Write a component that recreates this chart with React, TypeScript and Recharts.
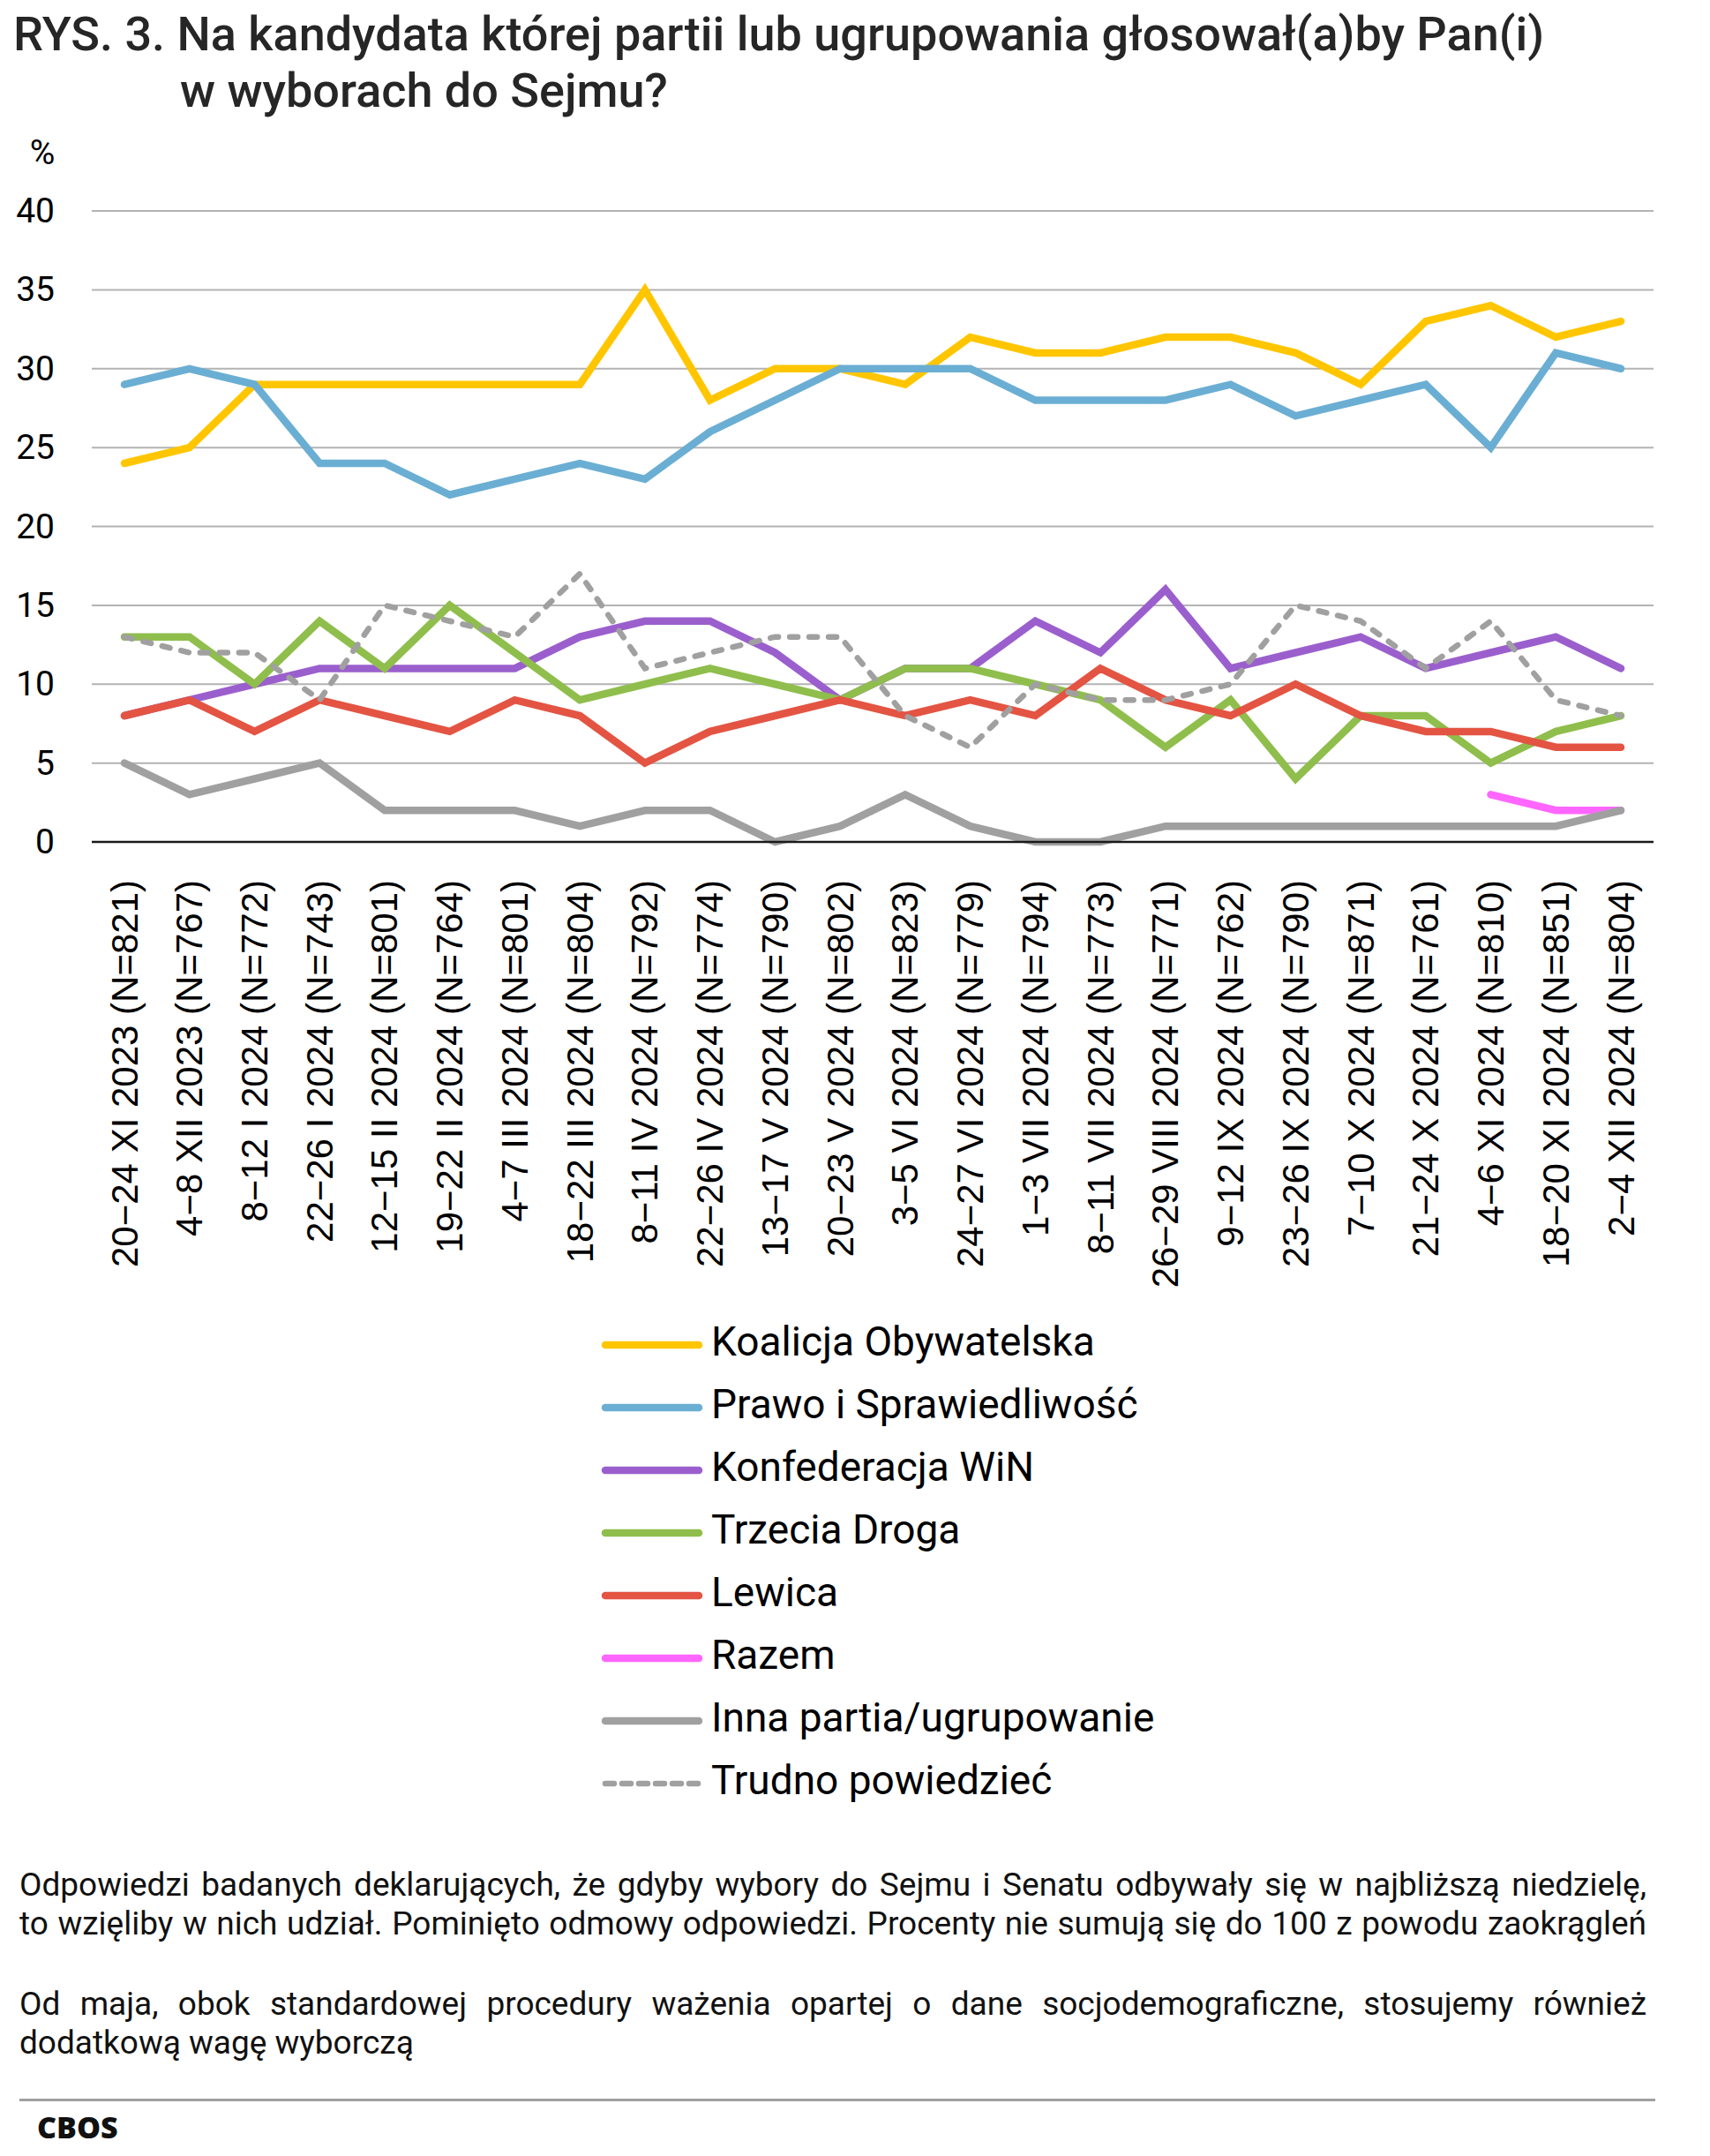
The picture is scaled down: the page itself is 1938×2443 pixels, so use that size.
import React from "react";
import { LineChart, Line, XAxis, YAxis, CartesianGrid } from "recharts";

const waves = [
  "20−24 XI 2023 (N=821)",
  "4−8 XII 2023 (N=767)",
  "8−12 I 2024 (N=772)",
  "22−26 I 2024 (N=743)",
  "12−15 II 2024 (N=801)",
  "19−22 II 2024 (N=764)",
  "4−7 III 2024 (N=801)",
  "18−22 III 2024 (N=804)",
  "8−11 IV 2024 (N=792)",
  "22−26 IV 2024 (N=774)",
  "13−17 V 2024 (N=790)",
  "20−23 V 2024 (N=802)",
  "3−5 VI 2024 (N=823)",
  "24−27 VI 2024 (N=779)",
  "1−3 VII 2024 (N=794)",
  "8−11 VII 2024 (N=773)",
  "26−29 VIII 2024 (N=771)",
  "9−12 IX 2024 (N=762)",
  "23−26 IX 2024 (N=790)",
  "7−10 X 2024 (N=871)",
  "21−24 X 2024 (N=761)",
  "4−6 XI 2024 (N=810)",
  "18−20 XI 2024 (N=851)",
  "2−4 XII 2024 (N=804)",
];

const ko = [24, 25, 29, 29, 29, 29, 29, 29, 35, 28, 30, 30, 29, 32, 31, 31, 32, 32, 31, 29, 33, 34, 32, 33];
const pis = [29, 30, 29, 24, 24, 22, 23, 24, 23, 26, 28, 30, 30, 30, 28, 28, 28, 29, 27, 28, 29, 25, 31, 30];
const konf = [8, 9, 10, 11, 11, 11, 11, 13, 14, 14, 12, 9, 11, 11, 14, 12, 16, 11, 12, 13, 11, 12, 13, 11];
const td = [13, 13, 10, 14, 11, 15, 12, 9, 10, 11, 10, 9, 11, 11, 10, 9, 6, 9, 4, 8, 8, 5, 7, 8];
const lewica = [8, 9, 7, 9, 8, 7, 9, 8, 5, 7, 8, 9, 8, 9, 8, 11, 9, 8, 10, 8, 7, 7, 6, 6];
const razem = [null, null, null, null, null, null, null, null, null, null, null, null, null, null, null, null, null, null, null, null, null, 3, 2, 2];
const inna = [5, 3, 4, 5, 2, 2, 2, 1, 2, 2, 0, 1, 3, 1, 0, 0, 1, 1, 1, 1, 1, 1, 1, 2];
const trudno = [13, 12, 12, 9, 15, 14, 13, 17, 11, 12, 13, 13, 8, 6, 10, 9, 9, 10, 15, 14, 11, 14, 9, 8];

const yTicks = [0, 5, 10, 15, 20, 25, 30, 35, 40];

const series = [
  { key: "ko", name: "Koalicja Obywatelska", color: "#FFC600", values: ko },
  { key: "pis", name: "Prawo i Sprawiedliwość", color: "#6BAED3", values: pis },
  { key: "konf", name: "Konfederacja WiN", color: "#9B5FCD", values: konf },
  { key: "td", name: "Trzecia Droga", color: "#8FBE4C", values: td },
  { key: "lewica", name: "Lewica", color: "#E45443", values: lewica },
  { key: "razem", name: "Razem", color: "#FF66FF", values: razem },
  { key: "inna", name: "Inna partia/ugrupowanie", color: "#A0A0A0", values: inna },
  { key: "trudno", name: "Trudno powiedzieć", color: "#A0A0A0", values: trudno, dashed: true },
];

const data = waves.map((w, i) => {
  const row: Record<string, any> = { wave: w };
  series.forEach((s) => {
    row[s.key] = s.values[i];
  });
  return row;
});

const XTick = (props: any) => {
  const { x, y, payload } = props;
  return (
    <text
      x={x}
      y={y}
      transform={`rotate(-90, ${x}, ${y})`}
      textAnchor="end"
      dominantBaseline="central"
      fontFamily="'Liberation Sans', Arial, sans-serif"
      fontSize={42}
      fill="#000"
    >
      {payload.value}
    </text>
  );
};

const YTick = (props: any) => {
  const { y, payload } = props;
  return (
    <text x={62} y={y} textAnchor="end" dominantBaseline="central" fontFamily="Roboto" fontSize={39} fill="#000">
      {payload.value}
    </text>
  );
};

const abs = (left: number, top: number, extra: React.CSSProperties = {}): React.CSSProperties => ({
  position: "absolute",
  left,
  top,
  lineHeight: 1,
  whiteSpace: "nowrap",
  ...extra,
});

const footLines = [
  { text: "Odpowiedzi badanych deklarujących, że gdyby wybory do Sejmu i Senatu odbywały się w najbliższą niedzielę,", base: 2148, full: true },
  { text: "to wzięliby w nich udział. Pominięto odmowy odpowiedzi. Procenty nie sumują się do 100 z powodu zaokrągleń", base: 2192, full: true },
  { text: "Od maja, obok standardowej procedury ważenia opartej o dane socjodemograficzne, stosujemy również", base: 2283, full: true },
  { text: "dodatkową wagę wyborczą", base: 2327, full: false },
];

const FOOT = 37;

export default function App() {
  return (
    <div style={{ position: "absolute", left: 0, top: 0, width: 1938, height: 2443, background: "#fff", fontFamily: "Roboto, sans-serif", color: "#000" }}>
      <div style={abs(15, 12, { fontSize: 54, fontWeight: 500, color: "#262626" })}>
        RYS. 3. Na kandydata której partii lub ugrupowania głosował(a)by Pan(i)
      </div>
      <div style={abs(204, 76, { fontSize: 54, fontWeight: 500, color: "#262626" })}>w wyborach do Sejmu?</div>
      <div style={abs(28, 154, { fontSize: 39, width: 40, textAlign: "center" })}>%</div>

      <div style={{ position: "absolute", left: 0, top: 0 }}>
        <LineChart width={1938} height={1514} data={data} margin={{ top: 239, right: 64, left: 44, bottom: 0 }}>
          <CartesianGrid vertical={false} stroke="#b3b3b3" strokeWidth={2} />
          <XAxis
            dataKey="wave"
            interval={0}
            height={560}
            tickLine={false}
            tickSize={0}
            tickMargin={43}
            axisLine={{ stroke: "#1a1a1a", strokeWidth: 2.5 }}
            padding={{ left: 37, right: 37 }}
            tick={<XTick />}
          />
          <YAxis width={60} domain={[0, 40]} ticks={yTicks} axisLine={false} tickLine={false} tick={<YTick />} />
          {series.map((s) => (
            <Line
              key={s.key}
              dataKey={s.key}
              name={s.name}
              stroke={s.color}
              strokeWidth={s.dashed ? 6.5 : 8.5}
              strokeDasharray={s.dashed ? "9 13" : undefined}
              strokeLinecap="round"
              dot={false}
              activeDot={false}
              isAnimationActive={false}
            />
          ))}
        </LineChart>
      </div>

      {series.map((s, i) => {
        const cy = 1523.5 + 71 * i;
        return (
          <React.Fragment key={s.key}>
            <svg style={{ position: "absolute", left: 670, top: cy - 10 }} width={140} height={20}>
              <line
                x1={16}
                y1={10}
                x2={122}
                y2={10}
                stroke={s.color}
                strokeWidth={s.dashed ? 6.5 : 8.5}
                strokeLinecap="round"
                strokeDasharray={s.dashed ? "10 9" : undefined}
              />
            </svg>
            <div style={abs(806, cy + 12 - 0.842 * 46, { fontSize: 46 })}>{s.name}</div>
          </React.Fragment>
        );
      })}

      {footLines.map((l, i) => (
        <div
          key={i}
          style={abs(22, l.base - 0.842 * FOOT, {
            fontSize: FOOT,
            width: 1844,
            color: "#111",
            textAlign: l.full ? "justify" : "left",
            textAlignLast: l.full ? "justify" : "left",
          })}
        >
          {l.text}
        </div>
      ))}
      <div style={{ position: "absolute", left: 22, top: 2378, width: 1854, height: 3, background: "#a0a0a0" }} />
      <div style={abs(42, 2393, { fontSize: 34, fontWeight: 800, fontFamily: "'Open Sans', sans-serif", color: "#111" })}>CBOS</div>
    </div>
  );
}
